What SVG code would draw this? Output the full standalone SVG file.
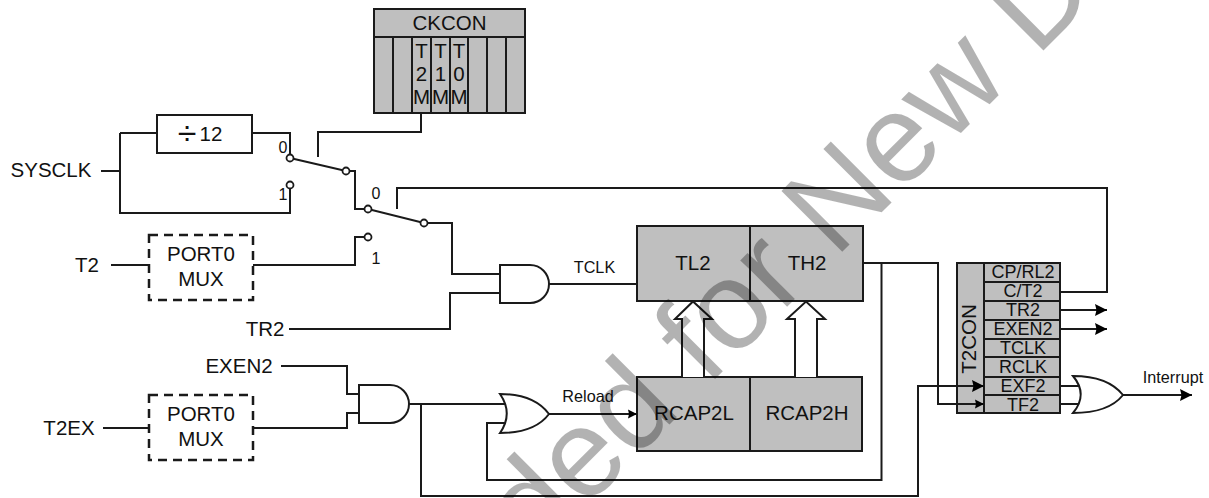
<svg xmlns="http://www.w3.org/2000/svg" width="1209" height="498" viewBox="0 0 1209 498">
<style>
text{font-family:"Liberation Sans",Arial,sans-serif;fill:#111;text-anchor:middle}
.b{fill:#bfbfbf;stroke:#1a1a1a;stroke-width:2}
.g{fill:#fff;stroke:#1a1a1a;stroke-width:2}
.d{fill:#fff;stroke:#1a1a1a;stroke-width:2.5;stroke-dasharray:9 6}
.l{fill:none;stroke:#1a1a1a;stroke-width:2}
.p{fill:#fff;stroke:#1a1a1a;stroke-width:1.8}
.t20{font-size:20.5px}.t18{font-size:18px}.t16{font-size:16.2px}.t15{font-size:16px}
</style>
<defs>
<marker id="ah" markerUnits="userSpaceOnUse" markerWidth="13" markerHeight="13" viewBox="0 0 13 13" refX="12" refY="6.5" orient="auto"><path d="M0 0.5L12 6.5L0 12.5L1.500 6.5Z" fill="#000"/></marker>
<marker id="as" markerUnits="userSpaceOnUse" markerWidth="10" markerHeight="10" viewBox="0 0 10 10" refX="9" refY="5" orient="auto"><path d="M0 0.500L9 5L0 9.500L1 5Z" fill="#000"/></marker>
</defs>
<rect width="1209" height="498" fill="#fff"/>
<g id="ckcon">
<rect class="b" x="374" y="9" width="151" height="104"/>
<path class="l" d="M374 37H525M393 37V113M412 37V113M431 37V113M450 37V113M468 37V113M487 37V113M506 37V113"/>
<text class="t20" x="449.500" y="30">CKCON</text>
<text class="t20" x="421.500" y="58">T</text><text class="t20" x="421.500" y="81">2</text><text class="t20" x="421.500" y="104">M</text>
<text class="t20" x="440.500" y="58">T</text><text class="t20" x="440.500" y="81">1</text><text class="t20" x="440.500" y="104">M</text>
<text class="t20" x="459" y="58">T</text><text class="t20" x="459" y="81">0</text><text class="t20" x="459" y="104">M</text>
</g>
<g id="div12"><rect class="g" x="157" y="115" width="95" height="38"/><text x="187" y="145" font-size="34">÷</text><text class="t20" x="211" y="141">12</text></g>
<g id="mux1"><rect class="d" x="149" y="235" width="104" height="65"/><text class="t20" x="201" y="261">PORT0</text><text class="t20" x="201" y="286">MUX</text></g>
<g id="mux2"><rect class="d" x="149" y="395" width="104" height="65"/><text class="t20" x="201" y="421">PORT0</text><text class="t20" x="201" y="446">MUX</text></g>
<g id="tl2th2"><rect class="b" x="637" y="226" width="226" height="75"/><path class="l" d="M750 226V301"/><text class="t20" x="693" y="270">TL2</text><text class="t20" x="807" y="270">TH2</text></g>
<g id="rcap"><rect class="b" x="637" y="377" width="225" height="74"/><path class="l" d="M750 377V451"/><text class="t20" x="694" y="420">RCAP2L</text><text class="t20" x="807" y="420">RCAP2H</text></g>
<g id="t2con">
<rect class="b" x="957" y="263" width="103" height="150"/>
<path class="l" d="M984 263V413M984 282H1060M984 301H1060M984 320H1060M984 339H1060M984 357H1060M984 377H1060M984 395H1060"/>
<text class="t20" transform="translate(976 339) rotate(-90)">T2CON</text>
<text class="t18" x="1023" y="278">CP/RL2</text>
<text class="t18" x="1023" y="297">C/T2</text>
<text class="t18" x="1023" y="316">TR2</text>
<text class="t18" x="1023" y="335">EXEN2</text>
<text class="t18" x="1023" y="354">TCLK</text>
<text class="t18" x="1023" y="373">RCLK</text>
<text class="t18" x="1023" y="392">EXF2</text>
<text class="t18" x="1023" y="411">TF2</text>
</g>
<g id="connectors">
<path class="l" d="M421 113V132H318V157"/>
<path class="l" d="M101 171H120M120 133V213H290V188M120 133H157M252 133H290V155"/>
<path class="l" d="M290 158L346 171H355V209H368L424 223H452V274H500"/>
<path class="l" d="M397 209V188H1107V292H1060"/>
<path class="l" d="M111 265H149M253 265H355V237H365"/>
<path class="l" d="M289 329H450V293H500"/>
<path class="l" d="M549 284H637"/>
<path class="l" d="M281 366H347V394H359M254 428H347V413H359M103 428H149"/>
<path class="l" d="M409 404H505M421 404V496H918V386H984" marker-end="url(#ah)"/>
<path class="l" d="M863 263H938V404H984" marker-end="url(#as)"/>
<path class="l" d="M881.500 263V480H487V423H506"/>
<path class="l" d="M549 414H637" marker-end="url(#as)"/>
<path class="l" d="M1060 310H1107" marker-end="url(#ah)"/>
<path class="l" d="M1060 329H1107" marker-end="url(#ah)"/>
<path class="l" d="M1060 386H1079M1060 404H1079"/>
<path class="l" d="M1123 395H1192" marker-end="url(#ah)"/>
</g>
<g id="sw1-contact0"><circle class="p" cx="290" cy="158" r="3.5"/></g>
<g id="sw1-contact1"><circle class="p" cx="290" cy="185" r="3.5"/></g>
<g id="sw1-common"><circle class="p" cx="346" cy="171" r="3.5"/></g>
<g id="sw2-contact0"><circle class="p" cx="368" cy="209" r="3.5"/></g>
<g id="sw2-contact1"><circle class="p" cx="368" cy="237" r="3.5"/></g>
<g id="sw2-common"><circle class="p" cx="424" cy="223" r="3.5"/></g>
<g id="sysclk"><text class="t20" x="51" y="177">SYSCLK</text></g>
<g id="t2"><text class="t20" x="87" y="272">T2</text></g>
<g id="tr2"><text class="t20" x="265" y="336">TR2</text></g>
<g id="exen2"><text class="t20" x="239" y="373">EXEN2</text></g>
<g id="t2ex"><text class="t20" x="69" y="435">T2EX</text></g>
<g id="labels0"><text class="t15" x="283" y="152.500">0</text><text class="t15" x="283" y="199.500">1</text><text class="t15" x="376" y="198.500">0</text><text class="t15" x="376" y="264">1</text></g>
<g id="and1"><path class="g" d="M500 265H530C541 265 549 274 549 284C549 294 541 303 530 303H500Z"/></g>
<g id="and2"><path class="g" d="M359 385H390C401 385 409 394 409 404C409 414 401 423 390 423H359Z"/></g>
<g id="or1"><path class="g" d="M500 394C516 394 537 398 549 414C537 430 516 433 500 433C509 420 509 407 500 394Z"/></g>
<g id="or2"><path class="g" d="M1073 376C1092 376 1111 380 1123 395C1111 410 1092 413 1073 413C1083 401 1083 388 1073 376Z"/></g>
<g id="tclk"><text class="t16" x="594.500" y="273">TCLK</text></g>
<g id="reload"><text class="t16" x="588" y="401.500">Reload</text></g>
<g id="interrupt"><text class="t16" x="1173" y="383">Interrupt</text></g>
<g id="arrow-l"><path class="g" d="M682 377V319H675L693 301.500L712 319H704V377"/></g>
<g id="arrow-h"><path class="g" d="M795 377V319H787L806 301.500L825 319H817V377"/></g>
<g id="watermark"><text transform="translate(835 259) rotate(-45)" x="-424" y="0" style="font-size:125px;text-anchor:start;fill:#000;fill-opacity:.3">ded for New D</text></g>
</svg>
